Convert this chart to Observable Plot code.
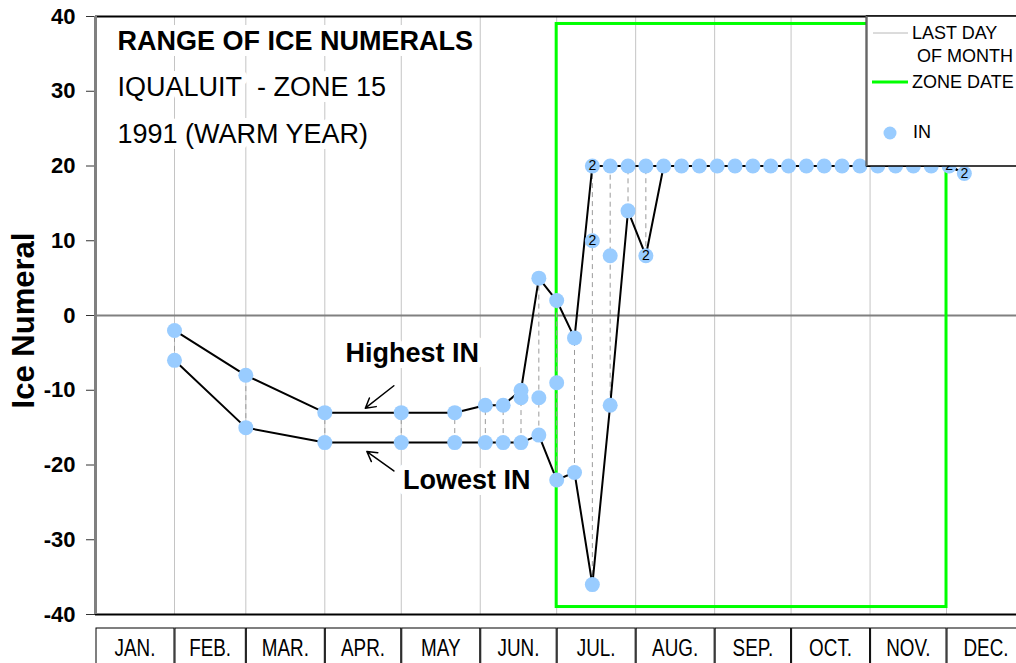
<!DOCTYPE html>
<html>
<head>
<meta charset="utf-8">
<script src="https://cdn.jsdelivr.net/npm/d3@7"></script>
<script src="https://cdn.jsdelivr.net/npm/@observablehq/plot@0.6"></script>
<style>
  body { margin: 0; background: #fff; }
  #wrap { position: relative; width: 1016px; height: 663px; overflow: hidden; background: #fff; }
  #wrap svg { display: block; }
</style>
</head>
<body>
<div id="wrap"></div>
<script>
// ---------- data ----------
const monthNames = ["JAN.", "FEB.", "MAR.", "APR.", "MAY", "JUN.", "JUL.", "AUG.", "SEP.", "OCT.", "NOV.", "DEC."];
const monthStarts = [0, 31, 59, 90, 120, 151, 181, 212, 243, 273, 304, 334];
const monthEnds = [31, 59, 90, 120, 151, 181, 212, 243, 273, 304, 334, 365];
const yTicks = [-40, -30, -20, -10, 0, 10, 20, 30, 40];

// observation day-of-year, ice numeral, number of observations at that value
const obsDay = [
  31, 31, 59, 59, 90, 90, 120, 120, 141, 141,
  153, 153, 160, 160, 167, 167, 167, 174, 174, 174,
  181, 181, 181, 188, 188, 195, 195, 195, 202, 202, 202,
  209, 209, 216, 216,
  223, 230, 237, 244, 251, 258, 265, 272, 279, 286, 293, 300, 307, 314, 321, 328,
  335, 341
];
const obsValue = [
  -2, -6, -8, -15, -13, -17, -13, -17, -13, -17,
  -12, -17, -12, -17, -10, -11, -17, 5, -11, -16,
  2, -9, -22, -3, -21, 20, 10, -36, 20, 8, -12,
  20, 14, 20, 8,
  20, 20, 20, 20, 20, 20, 20, 20, 20, 20, 20, 20, 20, 20, 20, 20,
  20, 19
];
const obsCount = [
  1, 1, 1, 1, 1, 1, 1, 1, 1, 1,
  1, 1, 1, 1, 1, 1, 1, 1, 1, 1,
  1, 1, 1, 1, 1, 2, 2, 1, 1, 1, 1,
  1, 1, 1, 2,
  1, 1, 1, 1, 1, 1, 1, 1, 1, 1, 1, 1, 1, 1, 1, 1,
  2, 2
];

// zone date window (Jun 30 – Nov 30)
const zoneStart = 181, zoneEnd = 334, zoneLow = -39, zoneHigh = 39;

// titles
const titleLines = ["RANGE OF ICE NUMERALS", "IQUALUIT\u00a0 - ZONE 15", "1991 (WARM YEAR)"];

// annotations (data coordinates)
const annoLabels = ["Highest IN", "Lowest IN"];
const annoDay = [124.3, 145.7];
const annoValue = [-5.0, -22.1];
const arrowFromDay = [117.1, 117.1], arrowFromValue = [-9.4, -20.8];
const arrowToDay = [105.9, 106.5], arrowToValue = [-12.4, -18.2];

// ---------- derived tables ----------
const obs = obsDay.map((d, i) => ({day: d, value: obsValue[i], count: obsCount[i]}));
const ranges = Array.from(d3.group(obs, d => d.day), ([day, rows]) => ({
  day, high: d3.max(rows, r => r.value), low: d3.min(rows, r => r.value)
})).sort((a, b) => a.day - b.day);
const annos = annoLabels.map((t, i) => ({text: t, day: annoDay[i], value: annoValue[i]}));
const arrows = arrowFromDay.map((d, i) => ({x1: d, y1: arrowFromValue[i], x2: arrowToDay[i], y2: arrowToValue[i]}));

const FONT = "'Liberation Sans', Arial, Helvetica, sans-serif";

const plot = Plot.plot({
  width: 1016,
  height: 663,
  marginTop: 16,
  marginBottom: 49,
  marginLeft: 95,
  marginRight: 0,
  x: {domain: [0, 365], range: [95, 1025], axis: null},
  y: {domain: [-40, 40], axis: null},
  style: {fontFamily: FONT, background: "white", color: "black"},
  marks: [
    Plot.ruleX(monthEnds, {stroke: "#c4c4c4", strokeWidth: 1}),
    Plot.ruleY([0], {stroke: "#808080", strokeWidth: 2}),
    Plot.rect([{}], {x1: () => zoneStart, x2: () => zoneEnd, y1: () => zoneLow, y2: () => zoneHigh,
      fill: "none", stroke: "#00ff00", strokeWidth: 3}),
    Plot.ruleX(ranges, {x: "day", y1: "low", y2: "high", stroke: "#9a9a9a", strokeWidth: 1, strokeDasharray: "5,4"}),
    Plot.line(ranges, {x: "day", y: "high", stroke: "black", strokeWidth: 2}),
    Plot.line(ranges, {x: "day", y: "low", stroke: "black", strokeWidth: 2}),
    Plot.dot(obs, {x: "day", y: "value", r: 7.5, fill: "#99ccff", stroke: "none"}),
    Plot.text(obs.filter(d => d.count > 1), {x: "day", y: "value", text: d => String(d.count),
      fontSize: 14, fill: "black"}),
    // axis frame
    Plot.ruleY([40], {stroke: "black", strokeWidth: 2}),
    Plot.ruleY([-40], {stroke: "black", strokeWidth: 2}),
    Plot.axisY({ticks: yTicks, tickSize: 9, tickPadding: 11, tickFormat: d => String(d),
      fontSize: 22, fontWeight: "bold", label: null, stroke: "#333"}),
    Plot.ruleX([0], {stroke: "#808080", strokeWidth: 3}),
    Plot.text(["Ice Numeral"], {frameAnchor: "left", dx: -71, dy: 5, rotate: -90, textAnchor: "middle",
      lineAnchor: "middle", fontSize: 31, fontWeight: "bold", fill: "black"}),
    // titles
    Plot.text([titleLines[0]], {frameAnchor: "top-left", dx: 22, dy: 25, lineAnchor: "middle", textAnchor: "start",
      fontSize: 27, fontWeight: "bold", fill: "black", stroke: "white", strokeWidth: 12, paintOrder: "stroke"}),
    Plot.text([titleLines[1]], {frameAnchor: "top-left", dx: 22, dy: 71, lineAnchor: "middle", textAnchor: "start",
      fontSize: 27, fill: "black", stroke: "white", strokeWidth: 12, paintOrder: "stroke"}),
    Plot.text([titleLines[2]], {frameAnchor: "top-left", dx: 22, dy: 118, lineAnchor: "middle", textAnchor: "start",
      fontSize: 27, fill: "black", stroke: "white", strokeWidth: 12, paintOrder: "stroke"}),
    // annotations
    Plot.text(annos, {x: "day", y: "value", text: "text", fontSize: 27, fontWeight: "bold",
      fill: "black", stroke: "white", strokeWidth: 12, paintOrder: "stroke"}),
    Plot.arrow(arrows, {x1: "x1", y1: "y1", x2: "x2", y2: "y2", stroke: "black", strokeWidth: 1.5,
      headLength: 11, bend: 0})
  ]
});

document.getElementById("wrap").appendChild(plot);

// ---------- month table under the axis, positioned with Plot's x scale ----------
const sx = plot.scale("x");
const svg = d3.select(plot);
const mg = svg.append("g");
const rowTop = 628;
monthNames.forEach((m, i) => {
  const x0 = sx.apply(monthStarts[i]) + 1, x1 = sx.apply(monthEnds[i]);
  mg.append("rect").attr("x", x0).attr("y", rowTop).attr("width", x1 - x0).attr("height", 60)
    .attr("fill", "none").attr("stroke", "black").attr("stroke-width", 1);
  mg.append("text").attr("transform", `translate(${(x0 + x1) / 2},656) scale(0.82,1)`)
    .attr("text-anchor", "middle")
    .attr("font-family", FONT)
    .attr("font-size", 23).attr("fill", "black").text(m);
});

// ---------- legend (drawn over the plot, as in the original) ----------
const lg = svg.append("g").attr("transform", "translate(866,16)")
  .attr("font-family", FONT).attr("font-size", 18).attr("fill", "black").attr("text-anchor", "start");
lg.append("rect").attr("x", 0.5).attr("y", 0).attr("width", 170).attr("height", 150)
  .attr("fill", "white").attr("stroke", "black").attr("stroke-width", 1.5);
lg.append("line").attr("x1", 0.5).attr("x2", 0.5).attr("y1", 0).attr("y2", 150).attr("stroke", "#666").attr("stroke-width", 2);
lg.append("line").attr("x1", 7).attr("x2", 42).attr("y1", 17).attr("y2", 17).attr("stroke", "#b8b8b8").attr("stroke-width", 1);
lg.append("text").attr("x", 46).attr("y", 23).text("LAST DAY");
lg.append("text").attr("x", 51).attr("y", 46).text("OF MONTH");
lg.append("line").attr("x1", 6).attr("x2", 42).attr("y1", 66).attr("y2", 66).attr("stroke", "#00ff00").attr("stroke-width", 3);
lg.append("text").attr("x", 46).attr("y", 72).text("ZONE DATE");
lg.append("circle").attr("cx", 24).attr("cy", 117).attr("r", 6.5).attr("fill", "#99ccff");
lg.append("text").attr("x", 47).attr("y", 122).text("IN");
</script>
</body>
</html>
